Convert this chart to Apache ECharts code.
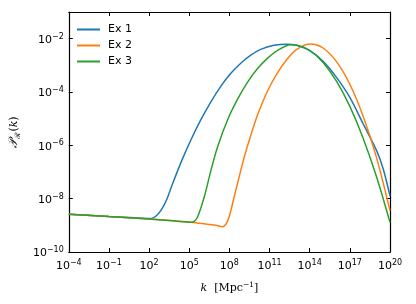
<!DOCTYPE html>
<html><head><meta charset="utf-8">
<script src="https://cdn.jsdelivr.net/npm/echarts@6/dist/echarts.min.js"></script>
<style>html,body{margin:0;padding:0;background:#fff}#c{width:416px;height:304px}</style>
</head><body><div id="c"></div>
<script>
// exponents of tick labels
const xTickExp = [-4, -1, 2, 5, 8, 11, 14, 17, 20];
const yTickExp = [-10, -8, -6, -4, -2];
const seriesNames = ['Ex 1', 'Ex 2', 'Ex 3'];
const colors = ['#1f77b4', '#ff7f0e', '#2ca02c'];

// log10(k) and log10(P)
const ex1LogK = [-4, -1, 1, 2.17, 2.5, 2.91, 3.3, 3.65, 4.4, 5.14, 5.88, 6.63, 7.37, 8.11, 8.85, 9.6, 10.34, 11.33, 12.32, 13, 14, 15, 16, 17, 18, 19, 19.5, 20];
const ex1LogP = [-8.58, -8.67, -8.72, -8.74, -8.66, -8.42, -8.05, -7.58, -6.62, -5.78, -5.03, -4.36, -3.78, -3.30, -2.92, -2.62, -2.40, -2.25, -2.21, -2.25, -2.45, -2.85, -3.45, -4.2, -5.2, -6.2, -6.9, -7.9];

const ex2LogK = [-4, -1, 1.42, 5.14, 6.38, 7, 7.49, 7.75, 7.99, 8.3, 8.61, 9.1, 9.6, 10.09, 10.84, 11.58, 12.32, 13.06, 14.06, 15, 16, 17, 18, 19, 20];
const ex2LogP = [-8.58, -8.67, -8.74, -8.88, -8.96, -9.0, -9.05, -8.95, -8.67, -8.05, -7.42, -6.46, -5.62, -4.88, -3.97, -3.29, -2.76, -2.39, -2.2, -2.35, -2.86, -3.71, -4.92, -6.47, -8.45];

const ex3LogK = [-4, -1, 1.42, 4, 5.14, 5.4, 5.64, 6.13, 6.63, 7.12, 7.86, 8.61, 9.35, 10.09, 10.84, 11.58, 12.57, 13, 14, 15, 16, 17, 18, 19, 20];
const ex3LogP = [-8.58, -8.67, -8.74, -8.84, -8.88, -8.84, -8.67, -7.92, -6.92, -6.05, -5.05, -4.27, -3.64, -3.13, -2.74, -2.45, -2.23, -2.24, -2.44, -2.89, -3.59, -4.54, -5.74, -7.19, -8.89];

const logKs = [ex1LogK, ex2LogK, ex3LogK];
const logPs = [ex1LogP, ex2LogP, ex3LogP];

function sup(v) {
  const s = String(v).replace('-', '\u2212');
  return '{b|10}{s|' + s + '}';
}
const labelRich = {
  b: { fontFamily: 'DejaVu Sans', fontSize: 11, color: '#000', verticalAlign: 'bottom', lineHeight: 14 },
  s: { fontFamily: 'DejaVu Sans', fontSize: 8, color: '#000', verticalAlign: 'bottom', lineHeight: 14, padding: [0, 0, 5, 0] }
};

const chart = echarts.init(document.getElementById('c'), null, { renderer: 'canvas' });
const axisLine = { show: true, onZero: false, lineStyle: { color: '#000', width: 1.2 } };
const axisTick = { show: true, inside: true, length: 4, lineStyle: { color: '#000', width: 1 } };

chart.setOption({
  animation: false,
  backgroundColor: '#fff',
  grid: { left: 67, right: 26, top: 12, bottom: 52 },
  legend: {
    orient: 'vertical', left: 72, top: 19,
    itemWidth: 23, itemHeight: 2, itemGap: 5,
    icon: 'rect',
    textStyle: { fontFamily: 'DejaVu Sans', fontSize: 11, color: '#000', padding: [0, 0, 0, 3] },
    data: seriesNames
  },
  xAxis: [{
    type: 'value', position: 'bottom', min: xTickExp[0], max: xTickExp[xTickExp.length - 1], interval: 3,
    axisLine, axisTick, splitLine: { show: false },
    axisLabel: { margin: 6, formatter: v => sup(v), rich: labelRich },
    name: '{i|k}{t|  [Mpc}{u|\u22121}{t|]}',
    nameLocation: 'middle', nameGap: 28,
    nameTextStyle: {
      rich: {
        i: { fontFamily: 'DejaVu Serif', fontStyle: 'italic', fontSize: 11, color: '#000', verticalAlign: 'bottom', lineHeight: 14 },
        t: { fontFamily: 'DejaVu Serif', fontSize: 11, color: '#000', verticalAlign: 'bottom', lineHeight: 14 },
        u: { fontFamily: 'DejaVu Serif', fontSize: 7.5, color: '#000', verticalAlign: 'bottom', lineHeight: 14, padding: [0, 0, 5, 0] }
      }
    }
  }, {
    type: 'value', position: 'top', min: xTickExp[0], max: xTickExp[xTickExp.length - 1], interval: 3,
    axisLine, axisTick, axisLabel: { show: false }, splitLine: { show: false }
  }],
  yAxis: [{
    type: 'value', position: 'left', min: yTickExp[0], max: -1, interval: 2,
    axisLine, axisTick, splitLine: { show: false },
    axisLabel: { margin: 5, formatter: v => (yTickExp.indexOf(v) >= 0 ? sup(v) : ''), rich: labelRich },
    name: '{p|\uD835\uDCAB}{r|\u211B}{a|(}{i|k}{a|)}',
    nameLocation: 'middle', nameGap: 39,
    nameTextStyle: {
      rich: {
        p: { fontFamily: 'DejaVu Serif', fontStyle: 'italic', fontSize: 12, color: '#000', verticalAlign: 'bottom', lineHeight: 14 },
        r: { fontFamily: 'DejaVu Serif', fontSize: 7.5, color: '#000', verticalAlign: 'bottom', lineHeight: 14, padding: [0, 0, -2, 0] },
        a: { fontFamily: 'DejaVu Serif', fontSize: 11, color: '#000', verticalAlign: 'bottom', lineHeight: 14 },
        i: { fontFamily: 'DejaVu Serif', fontStyle: 'italic', fontSize: 11, color: '#000', verticalAlign: 'bottom', lineHeight: 14 }
      }
    }
  }, {
    type: 'value', position: 'right', min: yTickExp[0], max: -1, interval: 2,
    axisLine, axisTick, axisLabel: { show: false }, splitLine: { show: false }
  }],
  series: seriesNames.map((name, i) => ({
    name, type: 'line', xAxisIndex: 0, yAxisIndex: 0,
    data: logKs[i].map((k, j) => [k, logPs[i][j]]),
    showSymbol: false, symbol: 'none', smooth: 0.3,
    lineStyle: { color: colors[i], width: 1.5 },
    itemStyle: { color: colors[i] },
    z: 2 + i
  }))
});
</script></body></html>
